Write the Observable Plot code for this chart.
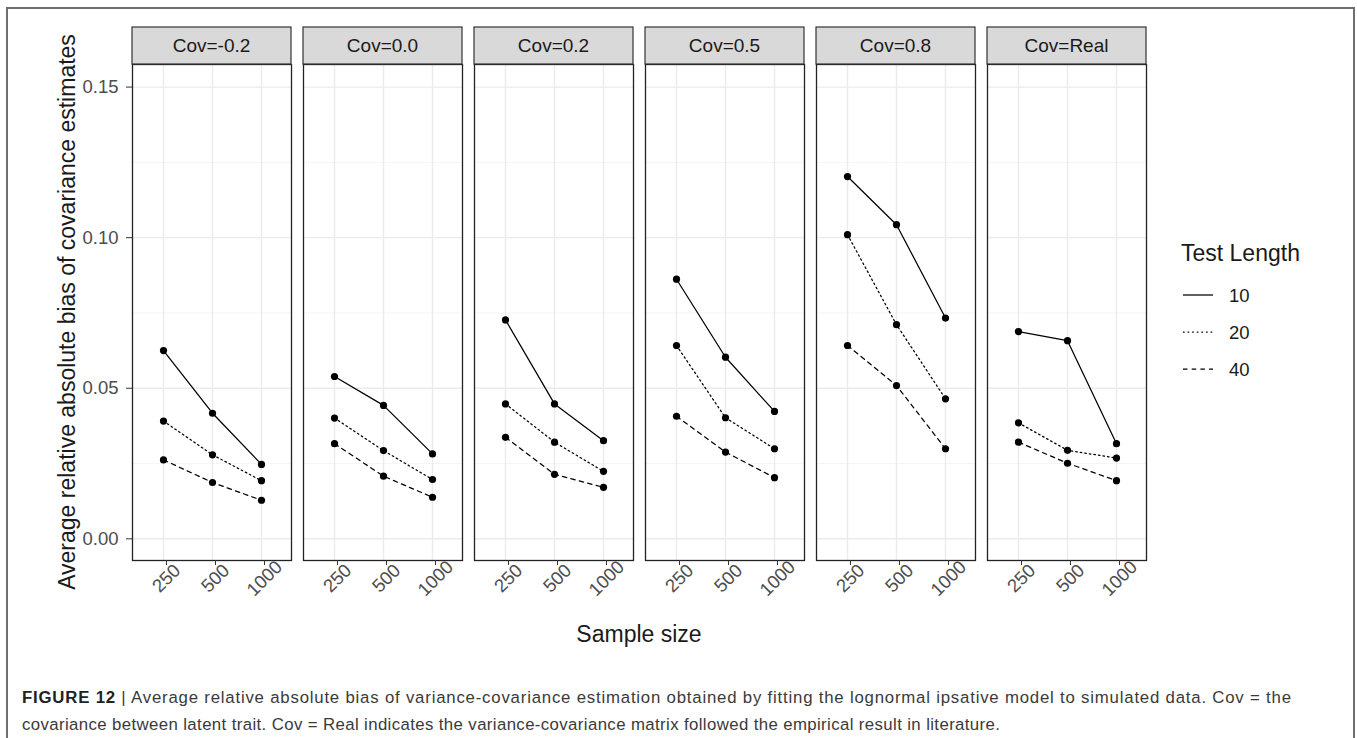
<!DOCTYPE html>
<html>
<head>
<meta charset="utf-8">
<script src="https://cdn.jsdelivr.net/npm/d3@7"></script>
<script src="https://cdn.jsdelivr.net/npm/@observablehq/plot@0.6"></script>
<style>
  html, body { margin: 0; padding: 0; background: #fff; }
  #wrap { position: relative; width: 1357px; height: 738px; overflow: hidden; font-family: "Liberation Sans", Arial, sans-serif; }
  #frame { position: absolute; left: 6px; top: 7px; width: 1349px; height: 800px; border: 2px solid #6e6e6e; box-sizing: border-box; }
  #chart { position: absolute; left: 0; top: 0; }
  .capline { position: absolute; left: 22px; white-space: nowrap; font-family: "Liberation Sans", Arial, sans-serif; font-size: 16.8px; line-height: 17px; color: #3a3a3a; }
  .capline b { color: #222; }
</style>
</head>
<body>
<div id="wrap">
  <div id="frame"></div>
  <div id="chart"></div>
  <div class="capline" id="cap1" style="top:689px"><b>FIGURE 12</b> | Average relative absolute bias of variance-covariance estimation obtained by fitting the lognormal ipsative model to simulated data. Cov = the</div>
  <div class="capline" id="cap2" style="top:716px">covariance between latent trait. Cov = Real indicates the variance-covariance matrix followed the empirical result in literature.</div>
</div>
<script>
// ---- data ----
const covLabels = ["Cov=-0.2", "Cov=0.0", "Cov=0.2", "Cov=0.5", "Cov=0.8", "Cov=Real"];
const sampleSizes = ["250", "500", "1000"];
const testLengths = ["10", "20", "40"];
// values per covariance condition, in sample-size order 250, 500, 1000
const bias10 = [
  [0.0625, 0.0417, 0.0247],
  [0.0539, 0.0443, 0.0282],
  [0.0727, 0.0448, 0.0326],
  [0.0862, 0.0603, 0.0423],
  [0.1203, 0.1043, 0.0733],
  [0.0688, 0.0658, 0.0316]
];
const bias20 = [
  [0.0391, 0.0279, 0.0193],
  [0.0401, 0.0293, 0.0197],
  [0.0448, 0.0321, 0.0224],
  [0.0642, 0.0402, 0.0299],
  [0.1010, 0.0711, 0.0465],
  [0.0385, 0.0294, 0.0268]
];
const bias40 = [
  [0.0262, 0.0187, 0.0128],
  [0.0316, 0.0208, 0.0138],
  [0.0337, 0.0214, 0.0171],
  [0.0407, 0.0288, 0.0203],
  [0.0642, 0.0509, 0.0299],
  [0.0321, 0.0251, 0.0193]
];
const yMajorTicks = [0, 0.05, 0.10, 0.15];
const yMinorTicks = [0.025, 0.075, 0.125];
const yTitle = "Average relative absolute bias of covariance estimates";
const xTitle = "Sample size";
const legendTitle = "Test Length";

// ---- build table ----
const seriesByLength = { "10": bias10, "20": bias20, "40": bias40 };
const rows = [];
for (const len of testLengths) {
  seriesByLength[len].forEach((vals, ci) => {
    vals.forEach((v, si) => rows.push({ cov: covLabels[ci], n: sampleSizes[si], len, value: v }));
  });
}

// ---- styles ----
const dashFor = { "10": null, "20": "1.6,3", "40": "4.5,4.2" };
const FONT = '"Liberation Sans", Arial, sans-serif';

const lineMarks = testLengths.map(len =>
  Plot.line(rows.filter(d => d.len === len), {
    fx: "cov", x: "n", y: "value",
    stroke: "#000", strokeWidth: 1.25,
    strokeDasharray: dashFor[len] ?? undefined
  })
);

const chart = Plot.plot({
  width: 1357,
  height: 660,
  marginLeft: 132,
  marginRight: 211,
  marginTop: 64,
  marginBottom: 100,
  style: { fontFamily: FONT, fontSize: "18.5px", background: "transparent", overflow: "visible" },
  fx: { domain: covLabels, paddingInner: 0.0702, paddingOuter: 0, axis: null, label: null },
  x: { type: "point", domain: sampleSizes, padding: 0.6, label: null, axis: null },
  y: { domain: [-0.0072, 0.1575], label: null, axis: null },
  marks: [
    Plot.gridY(yMinorTicks, { stroke: "#f2f2f2", strokeWidth: 0.8, strokeOpacity: 1 }),
    Plot.gridY(yMajorTicks, { stroke: "#ebebeb", strokeWidth: 1.4, strokeOpacity: 1 }),
    Plot.gridX(sampleSizes, { stroke: "#ebebeb", strokeWidth: 1.4, strokeOpacity: 1 }),
    ...lineMarks,
    Plot.dot(rows, { fx: "cov", x: "n", y: "value", r: 3.6, fill: "#000", stroke: "none" }),
    Plot.frame({ stroke: "#222", strokeWidth: 1.3 }),
    Plot.axisY(yMajorTicks, {
      tickFormat: d3.format(".2f"), tickSize: 6, tickPadding: 8,
      fontSize: 18.5, fill: "#4d4d4d", stroke: "#333", label: null
    }),
    Plot.axisX(sampleSizes, {
      tickRotate: -45, tickSize: 5, tickPadding: 13,
      textAnchor: "middle", lineAnchor: "middle", dx: 3,
      fontSize: 18.5, fill: "#4d4d4d", stroke: "#333", label: null
    })
  ]
});
document.getElementById("chart").appendChild(chart);

// ---- strips, titles and legend, positioned with the plot's scales ----
const svg = d3.select(chart);
const fx = chart.scale("fx");
const bw = fx.bandwidth;
const strips = svg.append("g").attr("class", "strips");
covLabels.forEach(c => {
  const x0 = fx.apply(c);
  strips.append("rect")
    .attr("x", x0).attr("y", 27).attr("width", bw).attr("height", 37)
    .attr("fill", "#d9d9d9").attr("stroke", "#333").attr("stroke-width", 1.2);
  strips.append("text")
    .attr("x", x0 + bw / 2).attr("y", 45.5)
    .attr("text-anchor", "middle").attr("dominant-baseline", "central")
    .attr("font-family", FONT).attr("font-size", 19).attr("fill", "#1a1a1a")
    .text(c);
});

const left = fx.apply(covLabels[0]);
const right = fx.apply(covLabels[covLabels.length - 1]) + bw;
svg.append("text")
  .attr("transform", `translate(67,${(64 + 560) / 2}) rotate(-90)`)
  .attr("text-anchor", "middle").attr("dominant-baseline", "central")
  .attr("font-family", FONT).attr("font-size", 23).attr("fill", "#1a1a1a")
  .text(yTitle);
svg.append("text")
  .attr("x", (left + right) / 2).attr("y", 634)
  .attr("text-anchor", "middle").attr("dominant-baseline", "central")
  .attr("font-family", FONT).attr("font-size", 23).attr("fill", "#1a1a1a")
  .text(xTitle);

const lg = svg.append("g").attr("class", "legend").attr("text-anchor", "start");
lg.append("text")
  .attr("x", 1181).attr("y", 253)
  .attr("text-anchor", "start").attr("dominant-baseline", "central")
  .attr("font-family", FONT).attr("font-size", 23).attr("fill", "#1a1a1a")
  .text(legendTitle);
testLengths.forEach((len, i) => {
  const y = 295 + i * 37;
  const ln = lg.append("line")
    .attr("x1", 1183).attr("x2", 1213).attr("y1", y).attr("y2", y)
    .attr("stroke", "#000").attr("stroke-width", 1.25);
  if (dashFor[len]) ln.attr("stroke-dasharray", dashFor[len]);
  lg.append("text")
    .attr("x", 1229).attr("y", y)
    .attr("text-anchor", "start").attr("dominant-baseline", "central")
    .attr("font-family", FONT).attr("font-size", 18.5).attr("fill", "#1a1a1a")
    .text(len);
});

// ---- caption: spread each line to the reference width ----
function fitLine(id, target) {
  const el = document.getElementById(id);
  const w = el.getBoundingClientRect().width;
  const n = el.textContent.length - 1;
  if (n > 0 && w < target) el.style.letterSpacing = ((target - w) / n).toFixed(3) + "px";
}
fitLine("cap1", 1269);
fitLine("cap2", 978);
</script>
</body>
</html>
